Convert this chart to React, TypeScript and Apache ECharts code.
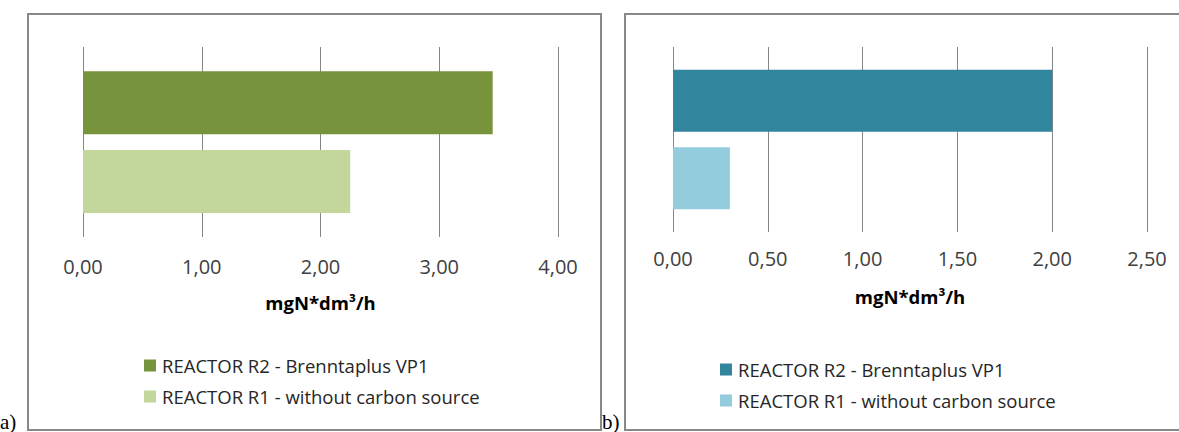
import React, { useEffect, useRef } from "react";
import * as echarts from "echarts";

const seriesNames = ["REACTOR R2 - Brenntaplus VP1", "REACTOR R1 - without carbon source"];
const valuesA = [3.45, 2.25];
const valuesB = [2.0, 0.3];
const colorsA = ["#77933C", "#C3D69B"];
const colorsB = ["#31859C", "#93CDDD"];
const axisTitle = "mgN*dm³/h";
const panelLabels = ["a)", "b)"];

const FONT = "'Open Sans', 'Noto Sans', sans-serif";
const fmt = (v: number) => v.toFixed(2).replace(".", ",");

export default function App() {
  const ref = useRef<HTMLDivElement>(null);
  useEffect(() => {
    const chart = echarts.init(ref.current!, undefined, { renderer: "svg" });
    const grids = [
      { left: 83, top: 47, width: 475, height: 190 },
      { left: 673, top: 47, width: 474, height: 185 },
    ];
    const xMax = [4, 2.5];
    const xInt = [1, 0.5];
    const nameGaps = [56, 55];
    const labelMargins = [19, 16];
    const values = [valuesA, valuesB];
    const colors = [colorsA, colorsB];
    const legendLeft = [144, 720];
    const legendTop = [356, 360];

    const option: any = {
      animation: false,
      grid: grids,
      xAxis: grids.map((_, i) => ({
        type: "value",
        gridIndex: i,
        min: 0,
        max: xMax[i],
        interval: xInt[i],
        name: axisTitle,
        nameLocation: "middle",
        nameGap: nameGaps[i],
        nameTextStyle: { fontFamily: FONT, fontWeight: "bold", fontSize: 18.5, color: "#000" },
        axisLine: { show: false },
        axisTick: { show: false },
        axisLabel: {
          formatter: fmt,
          fontFamily: FONT,
          fontSize: 20,
          color: "#404040",
          margin: labelMargins[i],
        },
        splitLine: { show: true, lineStyle: { color: "#868686", width: 1 } },
      })),
      yAxis: grids.map((_, i) => ({
        type: "category",
        gridIndex: i,
        data: [""],
        inverse: true,
        axisLine: { show: false },
        axisTick: { show: false },
        axisLabel: { show: false },
      })),
      legend: grids.map((_, i) => ({
        orient: "vertical",
        left: legendLeft[i],
        top: legendTop[i],
        padding: 0,
        icon: "rect",
        itemWidth: 12,
        itemHeight: 12,
        itemGap: 12,
        textStyle: { fontFamily: FONT, fontSize: 18.5, color: "#262626", padding: [0, 0, 0, 1] },
        data: seriesNames.map((n) => (i === 0 ? n : n + " ")),
      })),
      series: [0, 1].flatMap((g) =>
        seriesNames.map((n, k) => ({
          type: "bar",
          name: g === 0 ? n : n + " ",
          xAxisIndex: g,
          yAxisIndex: g,
          barWidth: g === 0 ? 63 : 62,
          barGap: "25%",
          itemStyle: { color: colors[g][k] },
          data: [values[g][k]],
        }))
      ),
      graphic: [
        {
          type: "rect",
          shape: { x: 28, y: 14, width: 573, height: 416 },
          style: { fill: "none", stroke: "#888888", lineWidth: 2 },
        },
        {
          type: "rect",
          shape: { x: 625, y: 14, width: 560, height: 416 },
          style: { fill: "none", stroke: "#888888", lineWidth: 2 },
        },
        {
          type: "text",
          x: 0,
          y: 411,
          style: { text: panelLabels[0], fontFamily: "'Liberation Serif', serif", fontSize: 21, fill: "#000" },
        },
        {
          type: "text",
          x: 602,
          y: 411,
          style: { text: panelLabels[1], fontFamily: "'Liberation Serif', serif", fontSize: 21, fill: "#000" },
        },
      ],
    };
    chart.setOption(option);
    return () => chart.dispose();
  }, []);
  return (
    <div
      ref={ref}
      style={{ position: "absolute", left: 0, top: 0, width: 1179, height: 432, background: "#fff" }}
    />
  );
}
